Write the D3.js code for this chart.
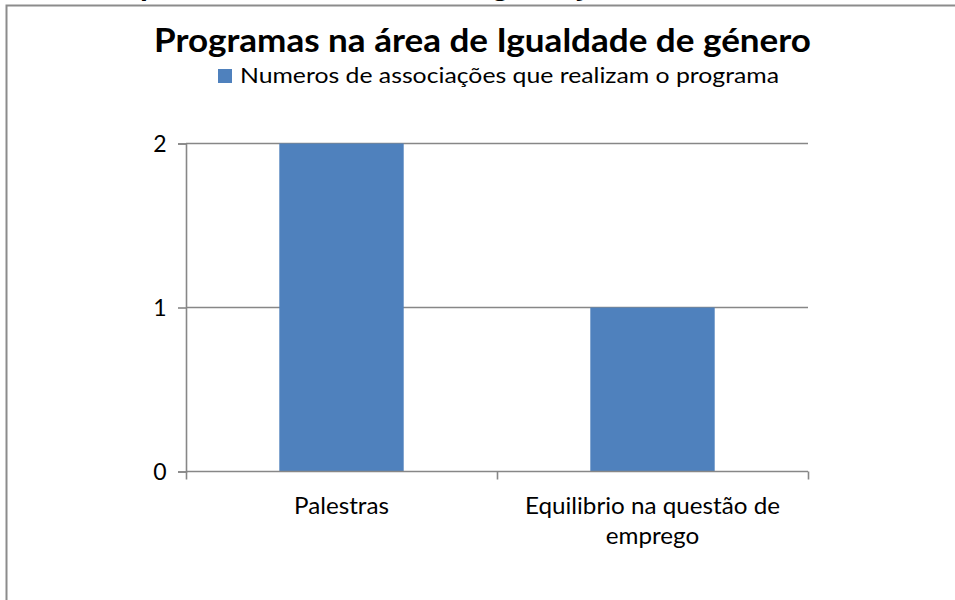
<!DOCTYPE html>
<html>
<head>
<meta charset="utf-8">
<script src="https://cdn.jsdelivr.net/npm/d3@7"></script>
<style>
  html, body { margin: 0; padding: 0; background: #fff; }
  svg { display: block; font-family: Lato, "Liberation Sans", sans-serif; }
</style>
</head>
<body>
<svg id="chart" width="955" height="600"></svg>
<script>
// chart data
var categories = ["Palestras", "Equilibrio na questão de emprego"];
var values = [2, 1];
var yTicks = [0, 1, 2];
var titleText = "Programas na área de Igualdade de género";
var legendLabel = "Numeros de associações que realizam o programa";

var svg = d3.select("#chart");
var gridColor = "#878787";
var barColor = "#4f81bd";

// frame of the embedded chart (only left and top edges are in view)
svg.append("path")
  .attr("d", "M6.5,600 V5.5 H955")
  .attr("fill", "none")
  .attr("stroke", "#8c8c8c")
  .attr("stroke-width", 2);

// descenders of the line of text cut off above the chart
[["p", 140], ["g", 492], ["j", 578]].forEach(function(d) {
  svg.append("text")
    .attr("x", d[1]).attr("y", -4)
    .attr("font-weight", "bold").attr("font-size", 32)
    .text(d[0]);
});

// squeeze a text to the given width (Calibri is narrower than Lato)
function squeeze(sel, width) {
  sel.attr("textLength", width).attr("lengthAdjust", "spacingAndGlyphs");
}

var x = d3.scaleBand()
  .domain(categories)
  .range([186, 808])
  .paddingInner(0.6)
  .paddingOuter(0.3);

var edges = d3.scaleLinear().domain([0, categories.length]).range([186, 808]);

var y = d3.scaleLinear().domain([0, 2]).range([471.5, 143.5]);

// gridlines
svg.append("g")
  .selectAll("line")
  .data(yTicks.filter(function(t) { return t > 0; }))
  .join("line")
  .attr("x1", 186).attr("x2", 808)
  .attr("y1", function(d) { return y(d); })
  .attr("y2", function(d) { return y(d); })
  .attr("stroke", gridColor)
  .attr("stroke-width", 1.6);

// bars
svg.append("g")
  .selectAll("rect")
  .data(values)
  .join("rect")
  .attr("x", function(d, i) { return x(categories[i]); })
  .attr("width", x.bandwidth())
  .attr("y", function(d) { return y(d); })
  .attr("height", function(d) { return y(0) - y(d); })
  .attr("fill", barColor);

// y axis
var yAxis = svg.append("g")
  .attr("transform", "translate(186,0)")
  .call(d3.axisLeft(y).tickValues(yTicks).tickFormat(d3.format("d")).tickSize(8).tickPadding(25));
yAxis.select(".domain").attr("stroke", gridColor).attr("stroke-width", 1.6);
yAxis.selectAll(".tick line").attr("stroke", gridColor).attr("stroke-width", 1.6);
yAxis.selectAll("text")
  .attr("fill", "#000")
  .attr("font-family", "Lato, sans-serif")
  .attr("font-size", 23)
  .attr("text-anchor", "middle")
  .attr("dx", "0.3em")
  .attr("dy", "0.36em");

// x axis line and category boundary ticks
var xAxis = svg.append("g")
  .attr("transform", "translate(0," + y(0) + ")")
  .call(d3.axisBottom(edges).tickValues(d3.range(categories.length + 1)).tickSize(8).tickFormat(""));
xAxis.select(".domain").attr("stroke", gridColor).attr("stroke-width", 1.6).attr("d", "M186,0H808");
xAxis.selectAll(".tick line").attr("stroke", gridColor).attr("stroke-width", 1.6);

// category labels, wrapped
var labelSize = 23.5;
var probe = svg.append("text").attr("font-size", labelSize).text(categories[0]);
var squeezeRatio = 95 / probe.node().getComputedTextLength();
probe.remove();

categories.forEach(function(c) {
  var words = c.split(" ");
  var lines = [];
  var line = [];
  var t = svg.append("text").attr("font-size", labelSize);
  words.forEach(function(w) {
    line.push(w);
    t.text(line.join(" "));
    if (t.node().getComputedTextLength() * squeezeRatio > 280 && line.length > 1) {
      line.pop();
      lines.push(line.join(" "));
      line = [w];
    }
  });
  lines.push(line.join(" "));
  t.remove();
  lines.forEach(function(l, i) {
    var lt = svg.append("text")
      .attr("x", x(c) + x.bandwidth() / 2)
      .attr("y", 514 + i * 29.5)
      .attr("font-size", labelSize)
      .attr("text-anchor", "middle")
      .attr("fill", "#000")
      .text(l);
    squeeze(lt, lt.node().getComputedTextLength() * squeezeRatio);
  });
});

// title
var title = svg.append("text")
  .attr("x", 154).attr("y", 52)
  .attr("font-weight", "bold")
  .attr("font-size", 33)
  .attr("fill", "#000")
  .text(titleText);
squeeze(title, 657);

// legend
svg.append("rect")
  .attr("x", 218).attr("y", 69)
  .attr("width", 14).attr("height", 14)
  .attr("fill", barColor);
var legendText = svg.append("text")
  .attr("x", 240).attr("y", 83)
  .attr("font-size", 22)
  .attr("fill", "#000")
  .text(legendLabel);
squeeze(legendText, 539);
</script>
</body>
</html>
